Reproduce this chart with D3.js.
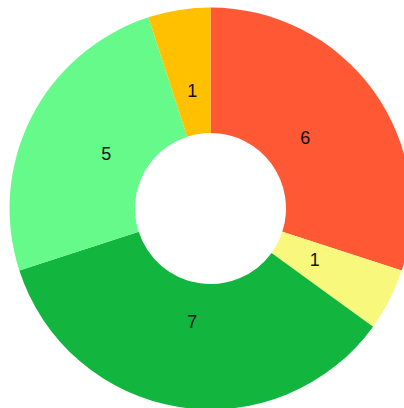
<!DOCTYPE html>
<html><head><meta charset="utf-8">
<script src="https://cdn.jsdelivr.net/npm/d3@7"></script>
<style>html,body{margin:0;padding:0;background:#fff;overflow:hidden}</style>
</head><body>
<svg id="c" width="404" height="408"></svg>
<script>
const categories = ["A", "B", "C", "D", "E"];
const values = [6, 1, 7, 5, 1];
const colors = ["#FF5835", "#F8F97C", "#12B53E", "#66FA8B", "#FFC000"];

const svg = d3.select("#c");
const cx = 210.5, cy = 208.5, rOuter = 201, rInner = 75.5, rLabel = 117;
const g = svg.append("g").attr("transform", `translate(${cx},${cy})`);
const pie = d3.pie().sort(null).value(d => d.v);
const data = pie(categories.map((c, i) => ({c, v: values[i], col: colors[i]})));
const arc = d3.arc().innerRadius(rInner).outerRadius(rOuter);
const labelArc = d3.arc().innerRadius(rLabel).outerRadius(rLabel);
g.selectAll("path").data(data).join("path")
  .attr("d", arc).attr("fill", d => d.data.col);
g.selectAll("text").data(data).join("text")
  .attr("transform", d => { const p = labelArc.centroid(d); return `translate(${p[0]},${p[1] - 2})`; })
  .attr("text-anchor", "middle").attr("dy", "0.35em")
  .attr("font-family", "Liberation Sans, Arial, sans-serif")
  .attr("font-size", 18).attr("fill", "#111")
  .text(d => d.data.v);
</script>
</body></html>
